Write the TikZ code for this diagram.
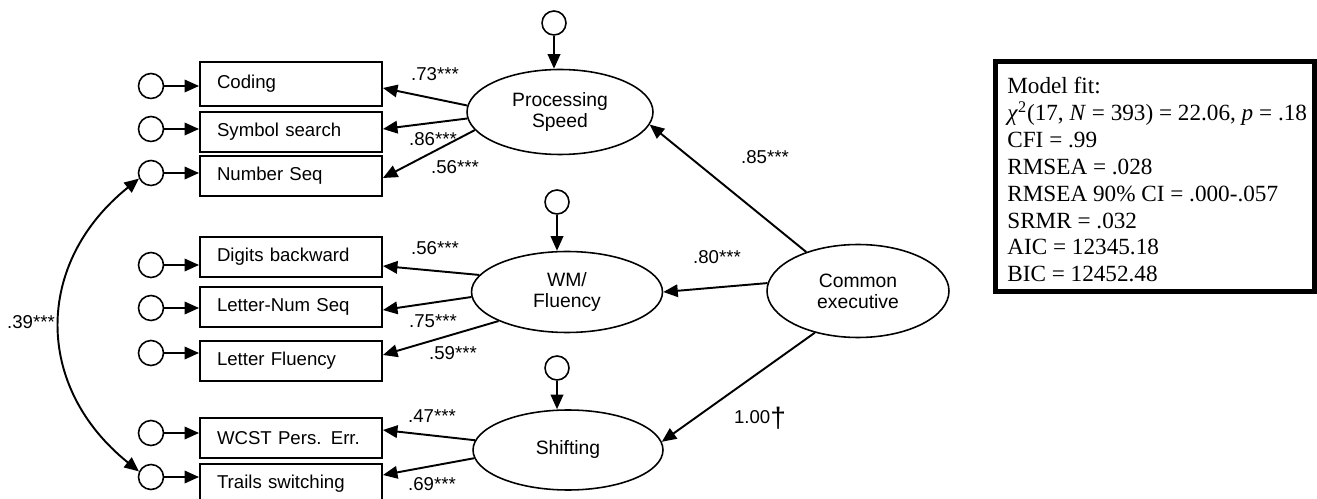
\documentclass[tikz,border=0pt]{standalone}
\usepackage{fontspec}
\setmainfont{Liberation Serif}
\setsansfont{Liberation Sans}
\usetikzlibrary{arrows.meta,shapes.geometric}
\begin{document}
\begin{tikzpicture}[x=0.02cm,y=-0.02cm,
  every node/.style={font=\sffamily\fontsize{10.6}{12}\selectfont},
  obs/.style={draw, rectangle, line width=1.1pt, minimum width=3.64cm, minimum height=0.8cm, inner xsep=0.34cm, text width=2.96cm, align=left, inner ysep=0pt},
  err/.style={draw, circle, line width=0.9pt, minimum size=0.5cm, inner sep=0pt},
  terr/.style={draw, circle, line width=0.9pt, minimum size=0.48cm, inner sep=0pt},
  lat/.style={draw, ellipse, line width=0.9pt, align=center, inner sep=0pt, font=\sffamily\fontsize{11}{11.9}\selectfont},
  arr/.style={line width=1.1pt, -{Triangle[length=0.29cm,width=0.25cm]}},
  darr/.style={line width=1.1pt, {Triangle[length=0.29cm,width=0.25cm]}-{Triangle[length=0.29cm,width=0.25cm]}},
  lbl/.style={inner sep=0pt},
]
\useasboundingbox (0,0) rectangle (1317,499);
\clip (0,0) rectangle (1317,499);

% observed indicators
\node[obs, minimum height=0.88cm] (b1) at (291,84) {Coding};
\node[obs] (b2) at (291,132) {Symbol search};
\node[obs] (b3) at (291,176) {Number Seq};
\node[obs] (b4) at (291,257) {Digits backward};
\node[obs] (b5) at (291,307) {Letter-Num Seq};
\node[obs] (b6) at (291,361) {Letter Fluency};
\node[obs] (b7) at (291,438) {WCST Pers. Err.};
\node[obs] (b8) at (291,484) {Trails switching};

% error terms
\node[err] (c1) at (151,86) {};
\node[err] (c2) at (151,129) {};
\node[err] (c3) at (151,173) {};
\node[err] (c4) at (151,265) {};
\node[err] (c5) at (151,308) {};
\node[err] (c6) at (151,353) {};
\node[err] (c7) at (151,433) {};
\node[err] (c8) at (151,477) {};
\foreach \i in {1,...,8} {\draw[arr] (c\i.east) -- (c\i.east -| b\i.west);}

% latent factors
\node[lat, minimum width=3.72cm, minimum height=1.7cm] (ps) at (560,112) {Processing\\Speed};
\node[lat, minimum width=3.82cm, minimum height=1.62cm] (wm) at (567,292) {WM/\\Fluency};
\node[lat, minimum width=3.8cm, minimum height=1.6cm] (sh) at (568,450) {Shifting};
\node[lat, minimum width=3.64cm, minimum height=1.86cm] (ce) at (858,291) {Common\\executive};

% disturbances
\node[terr] (t1) at (554,23) {};
\node[terr] (t2) at (557,202) {};
\node[terr] (t3) at (557,368) {};
\draw[arr] (t1.south) -- (t1.south |- ps.north);
\draw[arr] (t2.south) -- (t2.south |- wm.north);
\draw[arr] (t3.south) -- (t3.south |- sh.north);

% loadings
\draw[arr] (ps.176) -- ([yshift=-0.08cm]b1.east);
\draw[arr] (ps.184) -- ([yshift=0.06cm]b2.east);
\draw[arr] (ps.192) -- ([yshift=-0.04cm]b3.east);
\draw[arr] (wm.169) -- ([yshift=-0.18cm]b4.east);
\draw[arr] (wm.183) -- ([yshift=-0.06cm]b5.east);
\draw[arr] (wm.203) -- ([yshift=0.12cm]b6.east);
\draw[arr] (sh.174) -- ([yshift=0.16cm]b7.east);
\draw[arr] (sh.185) -- ([yshift=0.18cm]b8.east);

% higher-order paths
\draw[arr] (ce.143) -- (ps.-8);
\draw[arr] (ce.175) -- (wm.east);
\draw[arr] (ce.-136) -- (sh.5);

% covariance
\draw[darr] (c3.205) .. controls (34,263) and (34,387) .. (c8.155);

% labels
\node[lbl] (l1) at (435,74) {.73***};
\node[lbl] (l2) at (433,139) {.86***};
\node[lbl] (l3) at (455,167) {.56***};
\node[lbl] (l4) at (435,248) {.56***};
\node[lbl] (l5) at (433,321) {.75***};
\node[lbl] (l6) at (453,353) {.59***};
\node[lbl] (l7) at (432,416) {.47***};
\node[lbl] (l8) at (432,484) {.69***};
\node[lbl] (l9) at (765,157) {.85***};
\node[lbl] (l10) at (717,257) {.80***};
\node[lbl] (l11) at (760,418) {1.00\raisebox{-2pt}{\fontsize{16}{16}\selectfont †}};
\node[lbl] (l12) at (31,322) {.39***};

% model fit box
\node[draw, line width=2.8pt, minimum width=6.38cm, minimum height=4.6cm, inner sep=0pt] (fit) at (1155,176.5) {};
\node[anchor=north west, align=left, inner sep=0pt, font=\rmfamily\fontsize{13.2}{15.3}\selectfont] (fittext) at (1007,77) {Model fit:\\
\textit{χ}\textsuperscript{2}(17, \textit{N} = 393) = 22.06, \textit{p} = .18\\
CFI = .99\\
RMSEA = .028\\
RMSEA 90\% CI = .000-.057\\
SRMR = .032\\
AIC = 12345.18\\
BIC = 12452.48};
\end{tikzpicture}
\end{document}
